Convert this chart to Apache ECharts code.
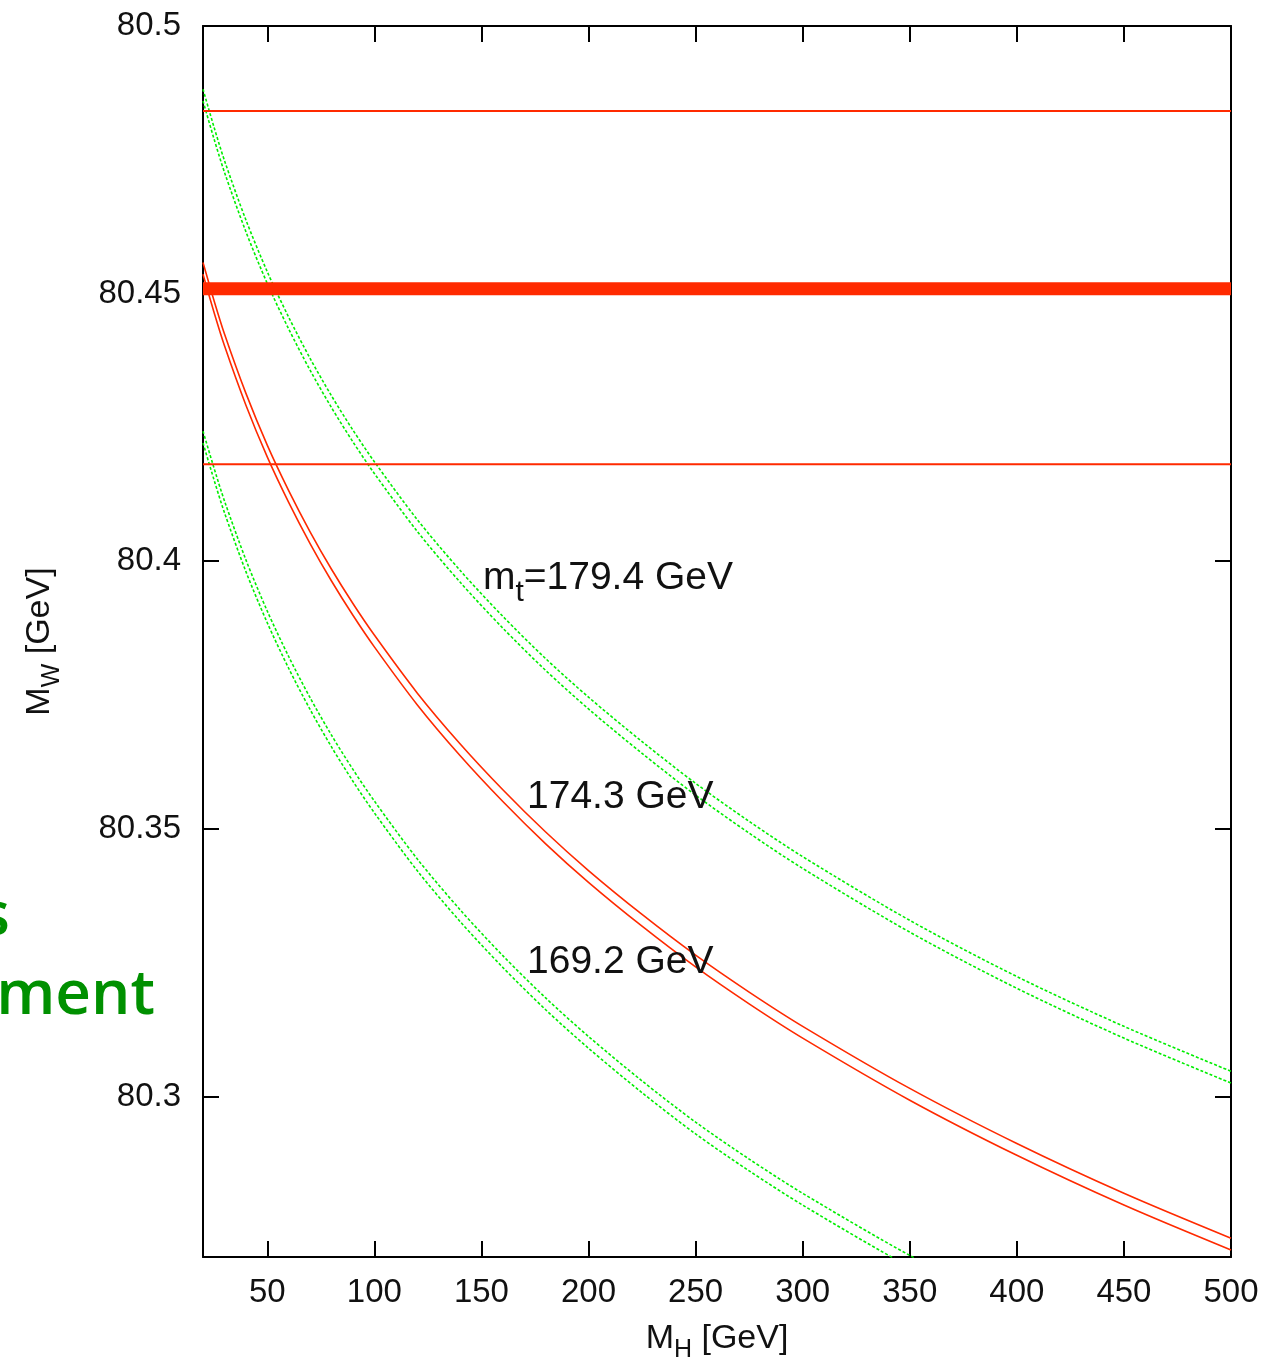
<!DOCTYPE html>
<html>
<head>
<meta charset="utf-8">
<style>
  html, body { margin: 0; padding: 0; background: #fff; }
  #chart { width: 1279px; height: 1363px; }
</style>
<script src="https://cdn.jsdelivr.net/npm/echarts@6/dist/echarts.min.js"></script>
</head>
<body>
<div id="chart"></div>
<script>
// ---------- data ----------
const mH = [20, 25, 30, 40, 50, 60, 70, 80, 90, 100, 120, 140, 160, 180, 200, 225, 250, 275, 300, 350, 400, 450, 500];
const mHLow = [20, 25, 30, 40, 50, 60, 70, 80, 90, 100, 120, 140, 160, 180, 200, 225, 250, 275, 300, 350, 400];

// m_t = 174.3 GeV (red, solid pair)
const mW174Upper = [80.4558, 80.4489, 80.4425, 80.4314, 80.4217, 80.4132, 80.4055, 80.3985, 80.3921, 80.3862, 80.3754, 80.3659, 80.3573, 80.3494, 80.3422, 80.3340, 80.3264, 80.3195, 80.3131, 80.3015, 80.2912, 80.2819, 80.2735];
const mW174Lower = [80.4536, 80.4467, 80.4403, 80.4292, 80.4195, 80.4110, 80.4033, 80.3963, 80.3899, 80.3840, 80.3732, 80.3637, 80.3551, 80.3472, 80.3400, 80.3318, 80.3242, 80.3173, 80.3109, 80.2993, 80.2890, 80.2797, 80.2713];

// m_t = 179.4 GeV (green, dashed pair)
const mW179Upper = [80.4882, 80.4813, 80.4749, 80.4638, 80.4541, 80.4456, 80.4379, 80.4309, 80.4245, 80.4186, 80.4078, 80.3983, 80.3897, 80.3818, 80.3746, 80.3663, 80.3585, 80.3514, 80.3448, 80.3329, 80.3224, 80.3131, 80.3047];
const mW179Lower = [80.4860, 80.4791, 80.4727, 80.4616, 80.4519, 80.4434, 80.4357, 80.4287, 80.4223, 80.4164, 80.4056, 80.3961, 80.3875, 80.3796, 80.3724, 80.3641, 80.3563, 80.3492, 80.3426, 80.3307, 80.3202, 80.3109, 80.3025];

// m_t = 169.2 GeV (green, dashed pair)
const mW169Upper = [80.4243, 80.4176, 80.4113, 80.4003, 80.3907, 80.3822, 80.3745, 80.3675, 80.3611, 80.3552, 80.3444, 80.3349, 80.3263, 80.3184, 80.3112, 80.3029, 80.2952, 80.2883, 80.2819, 80.2703, 80.2600];
const mW169Lower = [80.4221, 80.4154, 80.4091, 80.3981, 80.3885, 80.3800, 80.3723, 80.3653, 80.3589, 80.3530, 80.3422, 80.3327, 80.3241, 80.3162, 80.3090, 80.3007, 80.2930, 80.2861, 80.2797, 80.2681, 80.2578];

// measured M_W : central value and band edges
const mWCentral = 80.4509;
const mWBandHigh = 80.4841;
const mWBandLow = 80.4181;

// curve labels: [x, y, text]
const curveLabels = [
  [150.7, 80.3969, '{a|m}{s|t}{a|=179.4 GeV}'],
  [171.3, 80.3559, '{a|174.3 GeV}'],
  [171.3, 80.3251, '{a|169.2 GeV}']
];

const xTicks = [50, 100, 150, 200, 250, 300, 350, 400, 450, 500];
const yTicks = [80.3, 80.35, 80.4, 80.45, 80.5];
const xRange = [20, 500];
const yRange = [80.27, 80.5];

// ---------- build ----------
const zip = (xs, ys) => ys.map((y, i) => [xs[i], y]);
const RED = '#ff2a00';
const GREEN = '#00ee00';
const FONT = 'Liberation Sans';
const INK = '#111';

function curve(data, color, dashed) {
  return {
    type: 'line', data: data, showSymbol: false, symbol: 'none',
    smooth: 0.3,
    lineStyle: { color: color, width: 1.6, type: dashed ? [3, 2] : 'solid' },
    silent: true, z: 2
  };
}
function hline(v, width) {
  return {
    type: 'line', data: [[xRange[0], v], [xRange[1], v]], showSymbol: false, symbol: 'none',
    lineStyle: { color: RED, width: width }, silent: true, z: 3
  };
}

const axisLineStyle = { show: true, onZero: false, lineStyle: { color: '#000', width: 2 } };
const tickStyle = (vals) => ({ show: true, inside: true, length: 16, customValues: vals, lineStyle: { color: '#000', width: 2 } });
const nameRich = {
  m: { fontSize: 34, fontFamily: FONT, color: INK, lineHeight: 34 },
  s: { fontSize: 25, fontFamily: FONT, color: INK, lineHeight: 25, padding: [24, 0, 0, 0] }
};

const option = {
  backgroundColor: '#fff',
  animation: false,
  grid: { left: 203, top: 26, right: 48, bottom: 106, outerBoundsMode: 'none', containLabel: false },
  xAxis: [
    {
      type: 'value', min: xRange[0], max: xRange[1], position: 'bottom',
      axisLine: axisLineStyle, axisTick: tickStyle(xTicks), splitLine: { show: false },
      axisLabel: { customValues: xTicks, fontSize: 33, fontFamily: FONT, color: INK, margin: 19 },
      name: '{m|M}{s|H}{m| [GeV]}', nameLocation: 'middle', nameGap: 62,
      nameTextStyle: { color: INK, fontFamily: FONT, rich: nameRich }
    },
    {
      type: 'value', min: xRange[0], max: xRange[1], position: 'top',
      axisLine: axisLineStyle, axisTick: tickStyle(xTicks), splitLine: { show: false },
      axisLabel: { show: false }
    }
  ],
  yAxis: [
    {
      type: 'value', min: yRange[0], max: yRange[1], position: 'left',
      axisLine: axisLineStyle, axisTick: tickStyle(yTicks), splitLine: { show: false },
      axisLabel: { customValues: yTicks, fontSize: 33, fontFamily: FONT, color: INK, margin: 22 },
      name: '{m|M}{s|W}{m| [GeV]}', nameLocation: 'middle', nameGap: 146,
      nameTextStyle: { color: INK, fontFamily: FONT, rich: nameRich }
    },
    {
      type: 'value', min: yRange[0], max: yRange[1], position: 'right',
      axisLine: axisLineStyle, axisTick: tickStyle(yTicks), splitLine: { show: false },
      axisLabel: { show: false }
    }
  ],
  series: [
    curve(zip(mH, mW179Upper), GREEN, true),
    curve(zip(mH, mW179Lower), GREEN, true),
    curve(zip(mHLow, mW169Upper), GREEN, true),
    curve(zip(mHLow, mW169Lower), GREEN, true),
    curve(zip(mH, mW174Upper), RED, false),
    curve(zip(mH, mW174Lower), RED, false),
    hline(mWBandHigh, 2),
    hline(mWBandLow, 2),
    hline(mWCentral, 13),
    {
      type: 'scatter', symbolSize: 0, silent: true, z: 5,
      itemStyle: { opacity: 1 },
      data: curveLabels.map(d => ({ value: [d[0], d[1]], name: d[2] })),
      label: {
        show: true, position: 'right', distance: 0, opacity: 1,
        formatter: p => p.name,
        rich: {
          a: { fontSize: 39, fontFamily: FONT, color: INK, lineHeight: 39 },
          s: { fontSize: 30, fontFamily: FONT, color: INK, lineHeight: 30, padding: [30, 0, 0, 0] }
        }
      }
    }
  ],
  graphic: [
    {
      type: 'text', x: 10, y: 917, silent: true,
      style: { text: 's', fill: '#009000', font: '600 62px "Open Sans"', textAlign: 'right', textVerticalAlign: 'middle' }
    },
    {
      type: 'text', x: 155, y: 996, silent: true,
      style: { text: 'ment', fill: '#009000', font: '600 62px "Open Sans"', textAlign: 'right', textVerticalAlign: 'middle' }
    }
  ]
};

const chart = echarts.init(document.getElementById('chart'), null, { renderer: 'canvas' });
chart.setOption(option);
</script>
</body>
</html>
